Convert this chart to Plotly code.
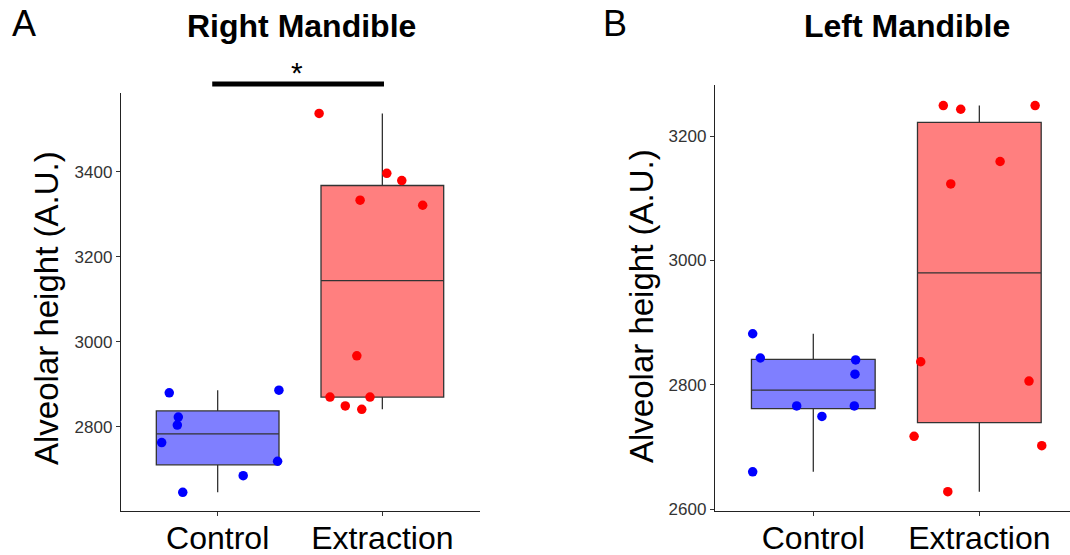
import numpy as np
import plotly.graph_objects as go

categories = ["Control", "Extraction"]

# Right Mandible (panel A)
right_control = [2880, 2823, 2804, 2763, 2886, 2719, 2685, 2646]
right_control_jitter = [-0.294, -0.239, -0.245, -0.340, 0.372, 0.364, 0.155, -0.212]
right_extraction = [3537, 3396, 3379, 3333, 3321, 2967, 2870, 2870, 2849, 2841]
right_extraction_jitter = [-0.384, 0.027, 0.118, -0.135, 0.245, -0.155, -0.318, -0.075, -0.225, -0.125]

# Left Mandible (panel B)
left_control = [2882, 2843, 2840, 2817, 2766, 2766, 2749, 2660]
left_control_jitter = [-0.365, -0.319, 0.255, 0.251, -0.100, 0.247, 0.052, -0.365]
left_extraction = [3249, 3243, 3249, 3159, 3123, 2837, 2806, 2717, 2702, 2628]
left_extraction_jitter = [-0.217, -0.112, 0.336, 0.125, -0.172, -0.353, 0.299, -0.393, 0.376, -0.190]

y_ticks_right = [2800, 3000, 3200, 3400]
y_ticks_left = [2600, 2800, 3000, 3200]

W, H = 1070, 555
FONT = "Liberation Sans, Arial, sans-serif"


def stats(vals):
    v = np.asarray(vals, dtype=float)
    q1, med, q3 = np.percentile(v, [25, 50, 75])
    iqr = q3 - q1
    lo = v[v >= q1 - 1.5 * iqr].min()
    hi = v[v <= q3 + 1.5 * iqr].max()
    return q1, med, q3, lo, hi


def px_x(p):
    return p / W


def px_y(p):
    return 1 - p / H


fig = go.Figure()

panels = [
    ("x", "y", right_control, right_control_jitter, right_extraction, right_extraction_jitter),
    ("x2", "y2", left_control, left_control_jitter, left_extraction, left_extraction_jitter),
]
fills = ["#7F7FFF", "#FF7F7F"]
dots = ["#0000FF", "#FF0000"]

for xa, ya, cv, cj, ev, ej in panels:
    for i, (vals, jit) in enumerate([(cv, cj), (ev, ej)]):
        q1, med, q3, lo, hi = stats(vals)
        pos = i + 1
        fig.add_trace(go.Box(
            x=[pos], q1=[q1], median=[med], q3=[q3], lowerfence=[lo], upperfence=[hi],
            width=0.745, fillcolor=fills[i], line=dict(color="#333333", width=1.3),
            whiskerwidth=0, boxpoints=False, showlegend=False, xaxis=xa, yaxis=ya,
            hoverinfo="skip",
        ))
        fig.add_trace(go.Scatter(
            x=[pos + j for j in jit], y=vals, mode="markers",
            marker=dict(color=dots[i], size=9.5, line=dict(width=0)),
            showlegend=False, xaxis=xa, yaxis=ya, cliponaxis=False,
        ))

axis_common = dict(
    showgrid=False, zeroline=False, showline=True, linecolor="#222222", linewidth=1.3,
    ticks="outside", ticklen=4, tickcolor="#333333", tickwidth=1.1,
)

fig.update_layout(
    width=W, height=H, margin=dict(l=0, r=0, t=0, b=0),
    paper_bgcolor="white", plot_bgcolor="white",
    font=dict(family=FONT, color="black"),
    xaxis=dict(**axis_common, domain=[px_x(121), px_x(480)], range=[0.413, 2.593],
               tickvals=[1, 2], ticktext=categories, automargin=False,
               ticklabelstandoff=-6,
               tickfont=dict(size=32, color="black"), anchor="y"),
    yaxis=dict(**axis_common, domain=[px_y(511), px_y(93)], range=[2602, 3585],
               tickvals=y_ticks_right, automargin=False,
               tickfont=dict(size=17, color="#333333"), anchor="x"),
    xaxis2=dict(**axis_common, domain=[px_x(715), 1.0], range=[0.408, 2.546],
                tickvals=[1, 2], ticktext=categories, automargin=False,
                ticklabelstandoff=-6,
                tickfont=dict(size=32, color="black"), anchor="y2"),
    yaxis2=dict(**axis_common, domain=[px_y(511), px_y(85)], range=[2597, 3282],
                tickvals=y_ticks_left, automargin=False,
                tickfont=dict(size=17, color="#333333"), anchor="x2"),
)

# significance bar for Right Mandible
fig.add_shape(type="line", xref="x", yref="paper", x0=0.967, x1=2.01,
              y0=px_y(84), y1=px_y(84), line=dict(color="black", width=5))

annotations = [
    dict(text="*", x=297, y=72, size=30),
    dict(text="<b>Right Mandible</b>", x=301, y=26, size=32),
    dict(text="<b>Left Mandible</b>", x=907, y=26, size=32),
    dict(text="A", x=24, y=23, size=36),
    dict(text="B", x=615, y=23, size=36),
]
for a in annotations:
    fig.add_annotation(text=a["text"], xref="paper", yref="paper",
                       x=px_x(a["x"]), y=px_y(a["y"]), showarrow=False,
                       xanchor="center", yanchor="middle",
                       font=dict(size=a["size"], color="black", family=FONT))

for xc, yc in [(46, 308), (641, 306)]:
    fig.add_annotation(text="Alveolar height (A.U.)", xref="paper", yref="paper",
                       x=px_x(xc), y=px_y(yc), showarrow=False, textangle=-90,
                       xanchor="center", yanchor="middle",
                       font=dict(size=33, color="black", family=FONT))

fig.write_html("out.html", config={"displayModeBar": False},
               post_script="document.body.style.margin='0';")
